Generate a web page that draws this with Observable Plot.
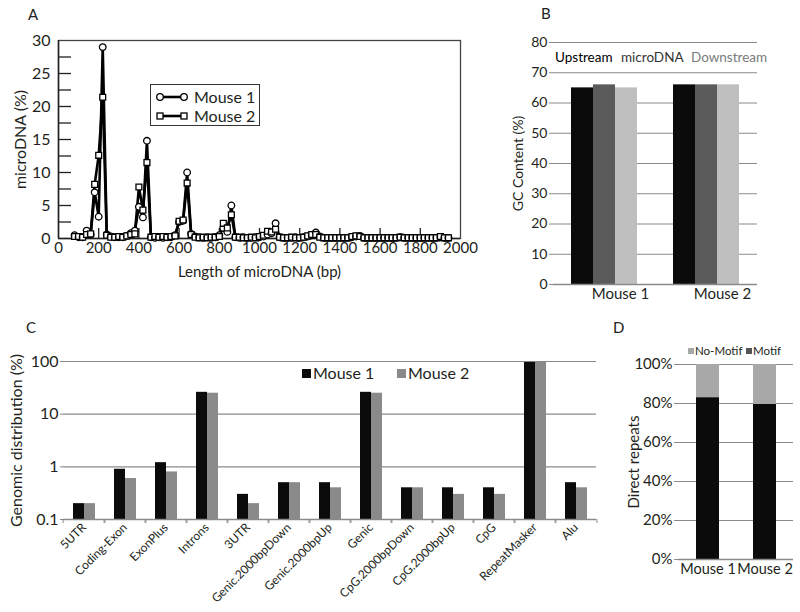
<!DOCTYPE html>
<html>
<head>
<meta charset="utf-8">
<script src="https://cdn.jsdelivr.net/npm/d3@7"></script>
<script src="https://cdn.jsdelivr.net/npm/@observablehq/plot@0.6"></script>
<style>
  html, body { margin: 0; padding: 0; background: #fff; }
  #root { position: relative; width: 800px; height: 612px; overflow: hidden; font-family: Lato, "Liberation Sans", sans-serif; color: #222; }
  .box { position: absolute; }
  .txt { position: absolute; white-space: nowrap; line-height: 1; }
  svg { display: block; }
</style>
</head>
<body>
<div id="root"></div>
<script>
// ---------------- Panel A: microDNA length distribution ----------------
const lengthsBp = [80,100,120,140,160,180,200,220,240,260,280,300,320,340,360,380,400,420,440,460,
  480,500,520,540,560,580,600,620,640,660,680,700,720,740,760,780,800,820,840,860,
  880,900,920,940,960,980,1000,1020,1040,1060,1080,1100,1120,1140,1160,1180,1200,1220,1240,1260,
  1280,1300,1320,1340,1360,1380,1400,1420,1440,1460,1480,1500,1520,1540,1560,1580,1600,1620,1640,1660,
  1680,1700,1720,1740,1760,1780,1800,1820,1840,1860,1880,1900,1920,1940];
const mouse1Pct = [0.5,0.2,0.2,1.2,0.6,7.0,3.3,29.0,0.6,0.3,0.2,0.2,0.2,0.4,0.8,1.2,4.8,3.2,14.8,0.2,
  0.1,0.2,0.1,0.2,0.2,0.5,2.5,2.7,10.0,0.7,0.3,0.2,0.1,0.2,0.1,0.2,0.5,1.6,1.0,5.0,
  0.2,0.1,0.2,0.1,0.1,0.2,0.2,0.3,0.6,0.8,2.3,0.2,0.1,0.1,0.1,0.2,0.1,0.2,0.3,0.5,
  0.9,0.3,0.1,0.1,0.1,0.1,0.1,0.1,0.1,0.2,0.3,0.4,0.1,0.1,0.1,0.1,0.1,0.1,0.1,0.1,
  0.1,0.2,0.1,0.1,0.1,0.1,0.1,0.1,0.1,0.1,0.1,0.2,0.1,0.1];
const mouse2Pct = [0.3,0.3,0.2,0.6,0.7,8.2,12.6,21.4,0.5,0.2,0.2,0.3,0.2,0.4,0.6,0.7,7.8,4.3,11.5,0.2,
  0.3,0.2,0.3,0.2,0.3,0.4,2.6,2.8,8.4,0.6,0.2,0.1,0.2,0.1,0.2,0.2,0.3,2.3,1.6,3.6,
  0.2,0.2,0.1,0.1,0.2,0.1,0.3,0.5,1.1,1.0,1.4,0.2,0.1,0.1,0.2,0.1,0.1,0.2,0.4,0.6,
  0.6,0.2,0.1,0.1,0.1,0.1,0.1,0.1,0.1,0.3,0.4,0.3,0.1,0.1,0.1,0.1,0.1,0.1,0.1,0.1,
  0.1,0.2,0.1,0.1,0.1,0.1,0.1,0.1,0.1,0.1,0.1,0.3,0.1,0.1];
const aSeries = ["Mouse 1", "Mouse 2"];
const aSymbols = ["circle", "square"];
const aXTicks = [0,200,400,600,800,1000,1200,1400,1600,1800,2000];
const aYTicks = [0,5,10,15,20,25,30];
const aYMinorTicks = [2.5,5,7.5,10,12.5,15,17.5,20,22.5,25,27.5];

// ---------------- Panel B: GC content ----------------
const gcMice = ["Mouse 1", "Mouse 2"];
const gcRegions = ["Upstream", "microDNA", "Downstream"];
const gcUpstream = [65, 66];
const gcMicroDNA = [66, 66];
const gcDownstream = [65, 66];
const gcYTicks = [0,10,20,30,40,50,60,70,80];

// ---------------- Panel C: genomic distribution ----------------
const genomicCategories = ["5UTR","Coding-Exon","ExonPlus","Introns","3UTR","Genic.2000bpDown","Genic.2000bpUp",
  "Genic","CpG.2000bpDown","CpG.2000bpUp","CpG","RepeatMasker","Alu"];
const genomicMouse1 = [0.2,0.9,1.2,26,0.3,0.5,0.5,26,0.4,0.4,0.4,96,0.5];
const genomicMouse2 = [0.2,0.6,0.8,25,0.2,0.5,0.4,25,0.4,0.3,0.3,96,0.4];
const genomicYDomain = [0.1, 100];
const genomicYTicks = [0.1, 1, 10, 100];

// ---------------- Panel D: direct repeats ----------------
const repeatMice = ["Mouse 1", "Mouse 2"];
const repeatKinds = ["Motif", "No-Motif"];
const motifShare = [0.83, 0.795];
const noMotifShare = [0.17, 0.205];
const repeatYTicks = [0, 0.2, 0.4, 0.6, 0.8, 1];

// ---------------- styling ----------------
const FONT = "Lato, 'Liberation Sans', sans-serif";
const INK = "#231f20";
const GRID = "#8a8a8a";
const root = document.getElementById("root");

function place(node, left, top, width, height) {
  const d = document.createElement("div");
  d.className = "box";
  d.style.left = left + "px"; d.style.top = top + "px";
  d.style.width = width + "px"; d.style.height = height + "px";
  d.appendChild(node);
  root.appendChild(d);
  return d;
}
function text(str, left, centerY, size, css = "") {
  const s = document.createElement("div");
  s.className = "txt";
  s.textContent = str;
  s.style.cssText += `left:${left}px;top:${centerY - size / 2}px;font-size:${size}px;height:${size}px;${css}`;
  root.appendChild(s);
  return s;
}

// ----- Panel A -----
const aData = lengthsBp.flatMap((len, i) => [
  {len, pct: mouse1Pct[i], series: aSeries[0]},
  {len, pct: mouse2Pct[i], series: aSeries[1]}
]);
const aW = 480, aH = 290, aML = 58, aMR = 20, aMT = 40, aMB = 52;
const aPlotW = aW - aML - aMR, aPlotH = aH - aMT - aMB;
const plotA = Plot.plot({
  width: aW, height: aH,
  marginLeft: aML, marginRight: aMR, marginTop: aMT, marginBottom: aMB,
  style: {fontFamily: FONT, fontSize: "15px", color: INK, background: "transparent"},
  x: {domain: [0, 2000]},
  y: {domain: [0, 30]},
  symbol: {domain: aSeries, range: aSymbols},
  marks: [
    Plot.frame({stroke: "#444", strokeWidth: 1.3}),
    // inward tick marks: a top-anchored axis shifted down to the baseline, a right-anchored axis shifted to the left edge
    Plot.axisX(aXTicks.slice(1, -1), {anchor: "top", dy: aPlotH, tickSize: 11, tickFormat: () => "", label: null, stroke: INK, strokeWidth: 1.3}),
    Plot.axisY(aYMinorTicks, {anchor: "right", dx: -aPlotW, tickSize: 12, tickFormat: () => "", label: null, stroke: INK, strokeWidth: 1.3}),
    Plot.axisX(aXTicks, {tickSize: 0, tickPadding: 4, fontSize: 15, tickFormat: d => String(d), label: "Length of microDNA (bp)", labelAnchor: "center", labelArrow: "none", labelOffset: 38}),
    Plot.axisY(aYTicks, {tickSize: 0, tickPadding: 8, fontSize: 16, label: "microDNA (%)", labelAnchor: "center", labelArrow: "none", labelOffset: 44}),
    Plot.ruleY([0], {stroke: INK, strokeWidth: 1.5}),
    Plot.ruleX([0], {stroke: INK, strokeWidth: 1.5}),
    Plot.line(aData, {x: "len", y: "pct", z: "series", stroke: "#000", strokeWidth: 2.6}),
    Plot.dot(aData, {x: "len", y: "pct", symbol: "series", r: 3.3, fill: "#fff", stroke: "#000", strokeWidth: 1.3})
  ]
});
place(plotA, 0, 0, aW, aH);
text("A", 28, 14, 15);

// legend A
const legA = document.createElement("div");
legA.style.cssText = `position:absolute;left:150px;top:84px;width:108px;height:40px;border:1.3px solid #333;background:#fff;`;
legA.innerHTML = aSeries.map((s, i) => {
  const y = 12 + i * 19;
  const mk = (cx) => aSymbols[i] === "circle"
    ? `<circle cx="${cx}" cy="${y}" r="3.3" fill="#fff" stroke="#000" stroke-width="1.3"/>`
    : `<rect x="${cx - 3}" y="${y - 3}" width="6" height="6" fill="#fff" stroke="#000" stroke-width="1.3"/>`;
  return `<svg style="position:absolute;left:0;top:0" width="40" height="40"><line x1="9" x2="33" y1="${y}" y2="${y}" stroke="#000" stroke-width="2.6"/>${mk(9)}${mk(33)}</svg>` +
    `<div class="txt" style="left:43px;top:${y - 8}px;font-size:16px;color:${INK}">${s}</div>`;
}).join("");
root.appendChild(legA);

// ----- Panel B -----
const gcColors = ["#0b0b0b", "#5b5b5b", "#bfbfbf"];
const gcValues = [gcUpstream, gcMicroDNA, gcDownstream];
const bData = gcMice.flatMap((m, i) => gcRegions.map((r, j) => ({mouse: m, region: r, gc: gcValues[j][i]})));
const plotB = Plot.plot({
  width: 310, height: 310,
  marginLeft: 62, marginRight: 43, marginTop: 42, marginBottom: 26,
  style: {fontFamily: FONT, fontSize: "14px", color: INK, background: "transparent"},
  fx: {domain: gcMice, padding: 0, label: null, axis: null},
  x: {domain: gcRegions, paddingInner: 0, paddingOuter: 0.8, axis: null},
  y: {domain: [0, 80]},
  color: {domain: gcRegions, range: gcColors},
  marks: [
    Plot.gridY(gcYTicks, {stroke: GRID, strokeOpacity: 1, strokeWidth: 1.2}),
    Plot.barY(bData, {fx: "mouse", x: "region", y: "gc", fill: "region"}),
    Plot.ruleY([0], {stroke: GRID, strokeWidth: 1.3}),
    Plot.axisY(gcYTicks, {tickSize: 4, tickPadding: 2, fontSize: 14, stroke: GRID, label: "GC Content (%)", labelAnchor: "center", labelArrow: "none", labelOffset: 40}),
    Plot.axisFx({anchor: "bottom", tickSize: 0, tickPadding: 4, dx: 16, fontSize: 15, label: null})
  ]
});
place(plotB, 490, 0, 310, 310);
text("B", 541, 13, 15);
const bLegendX = [555, 621, 691];
const bLegendColor = ["#000", "#333", "#7a7a7a"];
gcRegions.forEach((r, i) => text(r, bLegendX[i], 58, 13.5, `color:${bLegendColor[i]};`));

// ----- Panel C -----
const cSeries = ["Mouse 1", "Mouse 2"];
const cColors = ["#0b0b0b", "#8a8a8a"];
const cData = genomicCategories.flatMap((c, i) => [
  {cat: c, series: cSeries[0], v: genomicMouse1[i]},
  {cat: c, series: cSeries[1], v: genomicMouse2[i]}
]);
const cStep = (610 - 57 - 9) / genomicCategories.length;
const plotC = Plot.plot({
  width: 610, height: 302,
  marginLeft: 57, marginRight: 9, marginTop: 51, marginBottom: 93,
  style: {fontFamily: FONT, fontSize: "16px", color: INK, background: "transparent"},
  fx: {domain: genomicCategories, padding: 0, label: null, axis: null},
  x: {domain: cSeries, paddingInner: 0, paddingOuter: 0.74, axis: null},
  y: {type: "log", domain: genomicYDomain},
  color: {domain: cSeries, range: cColors},
  marks: [
    Plot.gridY([1, 10, 100], {stroke: GRID, strokeOpacity: 1, strokeWidth: 1.2}),
    Plot.barY(cData, {fx: "cat", x: "series", y1: genomicYDomain[0], y2: "v", fill: "series"}),
    Plot.ruleY([genomicYDomain[0]], {stroke: GRID, strokeWidth: 1.3}),
    Plot.axisY(genomicYTicks, {tickSize: 3, tickPadding: 2, fontSize: 16, stroke: GRID, tickFormat: d => String(d), label: "Genomic distribution (%)", labelAnchor: "center", labelArrow: "none", labelOffset: 53}),
    Plot.axisFx({anchor: "bottom", tickSize: 4, dx: -cStep / 2, tickFormat: () => "", stroke: GRID, label: null}),
    Plot.axisFx([genomicCategories[genomicCategories.length - 1]], {anchor: "bottom", tickSize: 4, dx: cStep / 2, tickFormat: () => "", stroke: GRID, label: null}),
    Plot.axisFx({anchor: "bottom", tickSize: 0, tickPadding: 6, tickRotate: -45, textAnchor: "end", fontSize: 12, label: null})
  ]
});
place(plotC, 0, 310, 610, 302);
text("C", 26, 327, 15);
// legend C
const cLegX = [302, 397];
cSeries.forEach((s, i) => {
  const sq = document.createElement("div");
  sq.style.cssText = `position:absolute;left:${cLegX[i]}px;top:369px;width:9px;height:9px;background:${cColors[i]};`;
  root.appendChild(sq);
  text(s, cLegX[i] + 11, 373, 16, `color:${INK};`);
});

// ----- Panel D -----
const dColors = ["#0b0b0b", "#a8a8a8"];
const dShares = [motifShare, noMotifShare];
const dData = repeatMice.flatMap((m, i) => repeatKinds.map((k, j) => ({mouse: m, kind: k, share: dShares[j][i]})));
const plotD = Plot.plot({
  width: 190, height: 302,
  marginLeft: 68, marginRight: 7, marginTop: 54, marginBottom: 53,
  style: {fontFamily: FONT, fontSize: "15px", color: INK, background: "transparent"},
  x: {domain: repeatMice, paddingInner: 0.6, paddingOuter: 0.3, axis: null},
  y: {domain: [0, 1]},
  color: {domain: repeatKinds, range: dColors},
  marks: [
    Plot.gridY(repeatYTicks, {stroke: GRID, strokeOpacity: 1, strokeWidth: 1.2}),
    Plot.barY(dData, {x: "mouse", y: "share", fill: "kind"}),
    Plot.ruleY([0], {stroke: GRID, strokeWidth: 1.3}),
    Plot.axisY(repeatYTicks, {tickSize: 4, tickPadding: 2, fontSize: 15, stroke: GRID, tickFormat: d3.format(".0%"), label: "Direct repeats", labelAnchor: "center", labelArrow: "none", labelOffset: 50}),
    Plot.axisX({anchor: "bottom", tickSize: 0, tickPadding: 4, fontSize: 14.5, label: null})
  ]
});
place(plotD, 610, 310, 190, 302);
text("D", 613, 327, 15);
// legend D (No-Motif first, as in the reference)
const dLegX = [688, 746];
[1, 0].forEach((j, n) => {
  const sq = document.createElement("div");
  sq.style.cssText = `position:absolute;left:${dLegX[n]}px;top:348px;width:6px;height:6px;background:${j === 0 ? "#555" : dColors[1]};`;
  root.appendChild(sq);
  text(repeatKinds[j], dLegX[n] + 7, 351, 11.5, `color:${INK};`);
});
</script>
</body>
</html>
